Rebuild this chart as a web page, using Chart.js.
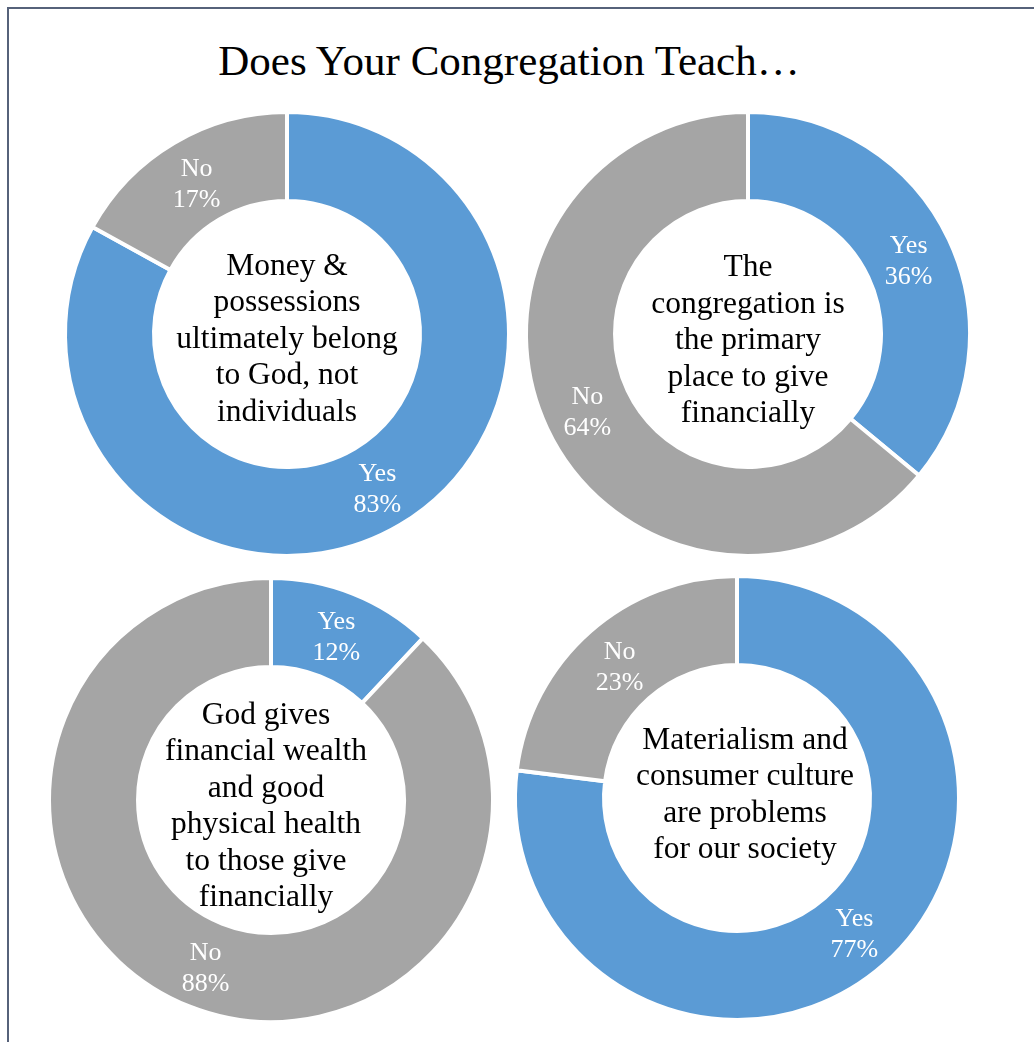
<!DOCTYPE html>
<html>
<head>
<meta charset="utf-8">
<script src="https://cdn.jsdelivr.net/npm/chart.js@4.4.1/dist/chart.umd.min.js"></script>
<style>
  html, body { margin: 0; padding: 0; background: #ffffff; overflow: hidden; }
  body { width: 1034px; height: 1042px; position: relative; }
  #frame { position: absolute; left: 7px; top: 7px; width: 1100px; height: 1100px;
           border-left: 2px solid #56627a; border-top: 2px solid #56627a; box-sizing: border-box; }
  #title { position: absolute; left: 0; top: 39px; width: 1018px; text-align: center;
           font-family: "Liberation Serif", "Times New Roman", serif; font-size: 43px; line-height: 43px; color: #000; }
  canvas.donut { position: absolute; }
</style>
</head>
<body>
<div id="frame"></div>
<div id="title">Does Your Congregation Teach…</div>
<canvas id="c0" class="donut" width="460" height="460"></canvas>
<canvas id="c1" class="donut" width="460" height="460"></canvas>
<canvas id="c2" class="donut" width="460" height="460"></canvas>
<canvas id="c3" class="donut" width="460" height="460"></canvas>
<script>
// ---- data ----
const categories = ["Yes", "No"];
const moneyBelongsToGod = [83, 17];
const congregationPrimaryPlace = [36, 64];
const godGivesWealth = [12, 88];
const materialismProblem = [77, 23];
const centerTexts = [
  ["Money &", "possessions", "ultimately belong", "to God, not", "individuals"],
  ["The", "congregation is", "the primary", "place to give", "financially"],
  ["God gives", "financial wealth", "and good", "physical health", "to those give", "financially"],
  ["Materialism and", "consumer culture", "are problems", "for our society"]
];
const seriesList = [moneyBelongsToGod, congregationPrimaryPlace, godGivesWealth, materialismProblem];

// ---- layout (positions / styles) ----
const centers = [[287, 334], [748, 334], [271, 800], [737, 798]];
const textShift = [[0, 1.5], [0, 3], [-5, 3], [8, -6.5]];
const colors = ["#5B9BD5", "#A5A5A5"];
const FONT = '"Liberation Serif", "Times New Roman", serif';

const labelPlugin = {
  id: 'ringLabels',
  afterDatasetsDraw(chart, args, opts) {
    const ctx = chart.ctx;
    const meta = chart.getDatasetMeta(0);
    const data = chart.data.datasets[0].data;
    const total = data.reduce((a, b) => a + b, 0);
    ctx.save();
    ctx.fillStyle = '#ffffff';
    ctx.textAlign = 'center';
    ctx.textBaseline = 'alphabetic';
    ctx.font = '26px ' + FONT;
    meta.data.forEach((arc, i) => {
      const p = arc.tooltipPosition();
      const pct = Math.round(data[i] / total * 100) + '%';
      ctx.fillText(chart.data.labels[i], p.x, p.y - 5.5);
      ctx.fillText(pct, p.x, p.y + 25.5);
    });
    // center text
    const arc0 = meta.data[0];
    const cx = arc0.x + opts.shift[0], cy = arc0.y + opts.shift[1];
    const lines = opts.lines;
    const lh = 36.5;
    ctx.fillStyle = '#000000';
    ctx.font = '31.5px ' + FONT;
    lines.forEach((t, i) => {
      const y = cy + 12 + (i - (lines.length - 1) / 2) * lh;
      ctx.fillText(t, cx, y);
    });
    ctx.restore();
  }
};

seriesList.forEach((series, k) => {
  const cv = document.getElementById('c' + k);
  cv.style.left = (centers[k][0] - 230) + 'px';
  cv.style.top = (centers[k][1] - 230) + 'px';
  new Chart(cv, {
    type: 'doughnut',
    data: {
      labels: categories,
      datasets: [{
        data: series,
        backgroundColor: colors,
        borderColor: '#ffffff',
        borderWidth: 4,
        borderAlign: 'center'
      }]
    },
    options: {
      responsive: false,
      animation: false,
      radius: 222,
      cutout: '59.9%',
      layout: { padding: 0 },
      plugins: {
        legend: { display: false },
        tooltip: { enabled: false },
        title: { display: false },
        ringLabels: { lines: centerTexts[k], shift: textShift[k] }
      }
    },
    plugins: [labelPlugin]
  });
});
</script>
</body>
</html>
